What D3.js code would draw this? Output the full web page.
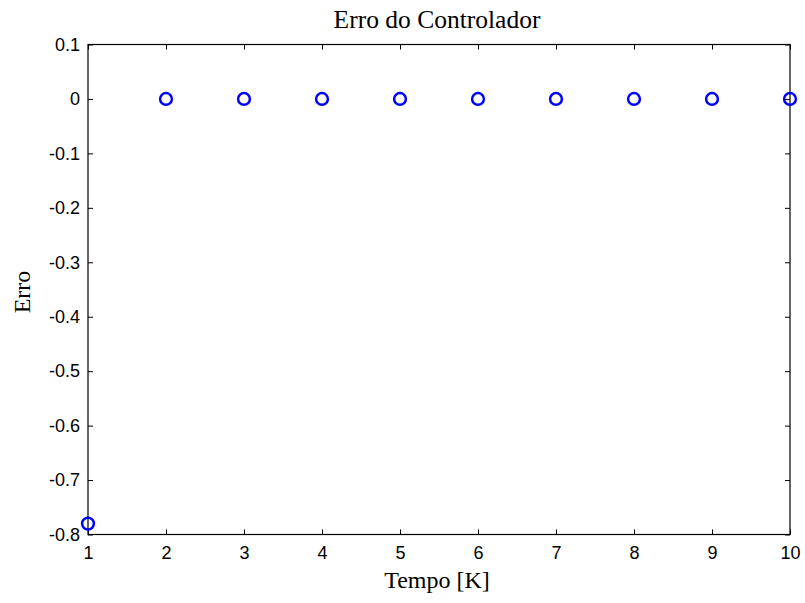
<!DOCTYPE html>
<html>
<head>
<meta charset="utf-8">
<script src="https://cdn.jsdelivr.net/npm/d3@7"></script>
<style>
  html, body { margin: 0; padding: 0; background: #fff; }
  svg { display: block; }
</style>
</head>
<body>
<script>
// Controller error per time step
const steps = [1, 2, 3, 4, 5, 6, 7, 8, 9, 10];
const errors = [-0.78, 0, 0, 0, 0, 0, 0, 0, 0, 0];
const xTicks = [1, 2, 3, 4, 5, 6, 7, 8, 9, 10];
const yTicks = [0.1, 0, -0.1, -0.2, -0.3, -0.4, -0.5, -0.6, -0.7, -0.8];

const W = 805, H = 603;
const m = { left: 88, top: 44.5, right: 790, bottom: 534.5 };

const svg = d3.select("body").append("svg").attr("width", W).attr("height", H);

const x = d3.scaleLinear().domain([1, 10]).range([m.left, m.right]);
const y = d3.scaleLinear().domain([-0.8, 0.1]).range([m.bottom, m.top]);

const tickLen = 5;
const tickFont = "'Liberation Sans', Arial, Helvetica, sans-serif";
const serif = "'Liberation Serif', 'Times New Roman', serif";
// plain hyphen for negative numbers
const yFmt = d => d === 0 ? "0" : (d < 0 ? "-" : "") + Math.abs(d).toFixed(1);

// Bottom axis (labels) with inward ticks
const xAxis = svg.append("g").attr("transform", `translate(0,${m.bottom})`)
  .call(d3.axisBottom(x).tickValues(xTicks).tickFormat(d3.format("d"))
    .tickSizeInner(-tickLen).tickSizeOuter(0).tickPadding(12));
// Left axis
const yAxis = svg.append("g").attr("transform", `translate(${m.left},0)`)
  .call(d3.axisLeft(y).tickValues(yTicks).tickFormat(yFmt)
    .tickSizeInner(-tickLen).tickSizeOuter(0).tickPadding(8));
// Top and right mirror ticks
const xTop = svg.append("g").attr("transform", `translate(0,${m.top})`)
  .call(d3.axisTop(x).tickValues(xTicks).tickFormat("").tickSizeInner(-tickLen).tickSizeOuter(0));
const yRight = svg.append("g").attr("transform", `translate(${m.right},0)`)
  .call(d3.axisRight(y).tickValues(yTicks).tickFormat("").tickSizeInner(-tickLen).tickSizeOuter(0));

[xAxis, yAxis, xTop, yRight].forEach(g => {
  g.select(".domain").remove();
  g.selectAll("line").attr("stroke", "#000").attr("stroke-width", 1);
  g.selectAll("text").attr("fill", "#000").style("font-family", tickFont).style("font-size", "18px");
});

// Axes box
svg.append("rect")
  .attr("x", m.left).attr("y", m.top)
  .attr("width", m.right - m.left).attr("height", m.bottom - m.top)
  .attr("fill", "none").attr("stroke", "#000").attr("stroke-width", 1.2);

// Data markers
svg.append("g").selectAll("circle")
  .data(steps.map((s, i) => [s, errors[i]]))
  .join("circle")
  .attr("cx", d => x(d[0]))
  .attr("cy", d => y(d[1]))
  .attr("r", 5.9)
  .attr("fill", "none")
  .attr("stroke", "#0000ff")
  .attr("stroke-width", 2.5);

// Title and axis labels
svg.append("text").attr("x", 437).attr("y", 27.5)
  .attr("text-anchor", "middle").style("font-family", serif).style("font-size", "25.5px")
  .text("Erro do Controlador");
svg.append("text").attr("x", 437).attr("y", 588)
  .attr("text-anchor", "middle").style("font-family", serif).style("font-size", "24px")
  .text("Tempo [K]");
svg.append("text")
  .attr("transform", `translate(30,292) rotate(-90)`)
  .attr("text-anchor", "middle").style("font-family", serif).style("font-size", "24px")
  .text("Erro");
</script>
</body>
</html>
